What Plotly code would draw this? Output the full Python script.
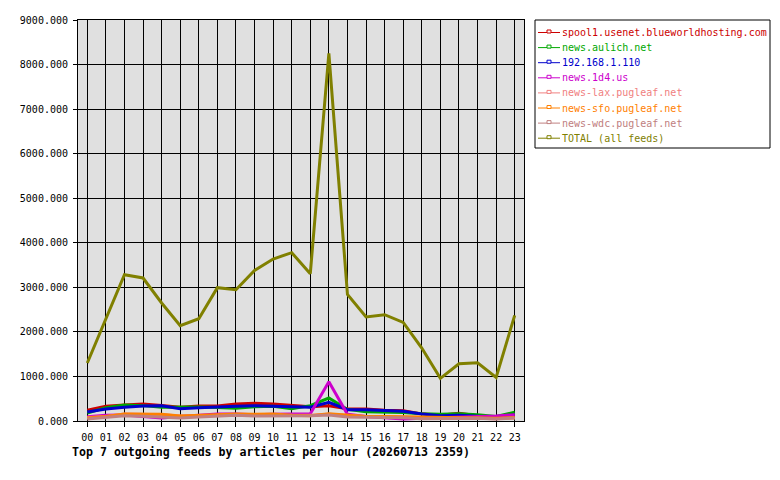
import plotly.graph_objects as go

hours = list(range(24))
hour_labels = ["%02d" % h for h in hours]
y_ticks = [0, 1000, 2000, 3000, 4000, 5000, 6000, 7000, 8000, 9000]

feed_names = [
    "spool1.usenet.blueworldhosting.com",
    "news.aulich.net",
    "192.168.1.110",
    "news.1d4.us",
    "news-lax.pugleaf.net",
    "news-sfo.pugleaf.net",
    "news-wdc.pugleaf.net",
    "TOTAL (all feeds)",
]

spool1 = [240, 330, 360, 380, 350, 307, 337, 337, 380, 396, 380, 350,
          320, 344, 277, 270, 240, 230, 160, 130, 172, 120, 70, 150]
aulich = [180, 300, 360, 345, 310, 314, 314, 305, 284, 320, 330, 277,
          344, 516, 260, 210, 205, 190, 165, 150, 160, 140, 100, 195]
ip_110 = [202, 270, 307, 337, 344, 277, 299, 307, 329, 344, 337, 329,
          307, 419, 254, 250, 240, 217, 157, 120, 127, 105, 60, 142]
d4_us = [97, 127, 135, 100, 67, 100, 130, 157, 157, 140, 150, 157,
         165, 883, 150, 100, 70, 45, 60, 70, 80, 90, 110, 142]
lax = [80, 100, 157, 150, 140, 110, 120, 130, 140, 135, 130, 130,
       130, 150, 120, 100, 100, 90, 70, 60, 60, 60, 50, 70]
sfo = [67, 100, 157, 157, 150, 112, 127, 127, 157, 150, 157, 127,
       120, 165, 135, 100, 100, 95, 80, 75, 80, 80, 60, 80]
wdc = [45, 82, 120, 105, 90, 67, 90, 105, 127, 112, 112, 112,
       120, 135, 90, 82, 82, 75, 50, 52, 60, 60, 45, 67]
total = [1302, 2274, 3284, 3210, 2649, 2140, 2296, 2992, 2947, 3381, 3636, 3778,
         3306, 8250, 2839, 2334, 2386, 2213, 1638, 956, 1283, 1305, 978, 2370]

series = [spool1, aulich, ip_110, d4_us, lax, sfo, wdc, total]
colors = ["#cc0000", "#00a800", "#0000cc", "#cc00cc",
          "#f08080", "#ff8000", "#c08080", "#808000"]

mono = "DejaVu Sans Mono"
# page body has an 8px margin on every side, keep the figure inside the window
W, H = 764, 464
ML, MT, PW, PH = 70, 12, 446, 401


def px(x):
    # window pixel -> paper x
    return (x - 8 - ML) / PW


def py(y):
    # window pixel -> paper y
    return (8 + MT + PH - y) / PH


fig = go.Figure()

for name, vals, col in zip(feed_names, series, colors):
    fig.add_trace(go.Scatter(x=hours, y=vals, mode="lines", name=name,
                             line=dict(color=col, width=3)))

# legend drawn by hand: plotly's own legend rows are too tall
shapes = [dict(type="rect", xref="paper", yref="paper",
               x0=px(535), x1=px(770), y0=py(20), y1=py(148),
               line=dict(color="black", width=1), fillcolor="white",
               layer="above")]
annotations = []
for i, (name, col) in enumerate(zip(feed_names, colors)):
    yc = 32.5 + 15.1 * i
    shapes.append(dict(type="line", xref="paper", yref="paper",
                       x0=px(538), x1=px(560), y0=py(yc), y1=py(yc),
                       line=dict(color=col, width=1), layer="above"))
    shapes.append(dict(type="rect", xref="paper", yref="paper",
                       x0=px(547), x1=px(551), y0=py(yc + 0.5), y1=py(yc - 2.5),
                       line=dict(color=col, width=1), fillcolor="white",
                       layer="above"))
    annotations.append(dict(text=name, xref="paper", yref="paper",
                            x=px(561), y=py(yc), xanchor="left", yanchor="middle",
                            showarrow=False, borderpad=0,
                            font=dict(family=mono, size=10, color=col)))

annotations.append(dict(
    text="<b>Top 7 outgoing feeds by articles per hour (20260713 2359)</b>",
    xref="paper", yref="paper", x=-0.018, y=-0.055,
    xanchor="left", yanchor="top", showarrow=False,
    font=dict(family=mono, size=11.6, color="black")))

fig.update_layout(
    width=W, height=H,
    margin=dict(l=ML, r=W - ML - PW, t=MT, b=H - MT - PH),
    paper_bgcolor="white",
    plot_bgcolor="#e0e0e0",
    font=dict(family=mono, size=10, color="black"),
    showlegend=False,
    shapes=shapes,
    annotations=annotations,
)

fig.update_xaxes(range=[-0.5, 23.5], tickvals=hours, ticktext=hour_labels,
                 showgrid=True, gridcolor="black", gridwidth=1,
                 showline=True, linecolor="black", linewidth=1, mirror=True,
                 ticks="outside", ticklen=5, tickcolor="black", zeroline=False,
                 ticklabelstandoff=2, automargin=False)
fig.update_yaxes(range=[0, 9000], tickvals=y_ticks, tickformat=".3f",
                 showgrid=True, gridcolor="black", gridwidth=1,
                 showline=True, linecolor="black", linewidth=1, mirror=True,
                 ticks="outside", ticklen=4, tickcolor="black", zeroline=False,
                 ticklabelstandoff=3, automargin=False)

fig.write_html("out.html")
